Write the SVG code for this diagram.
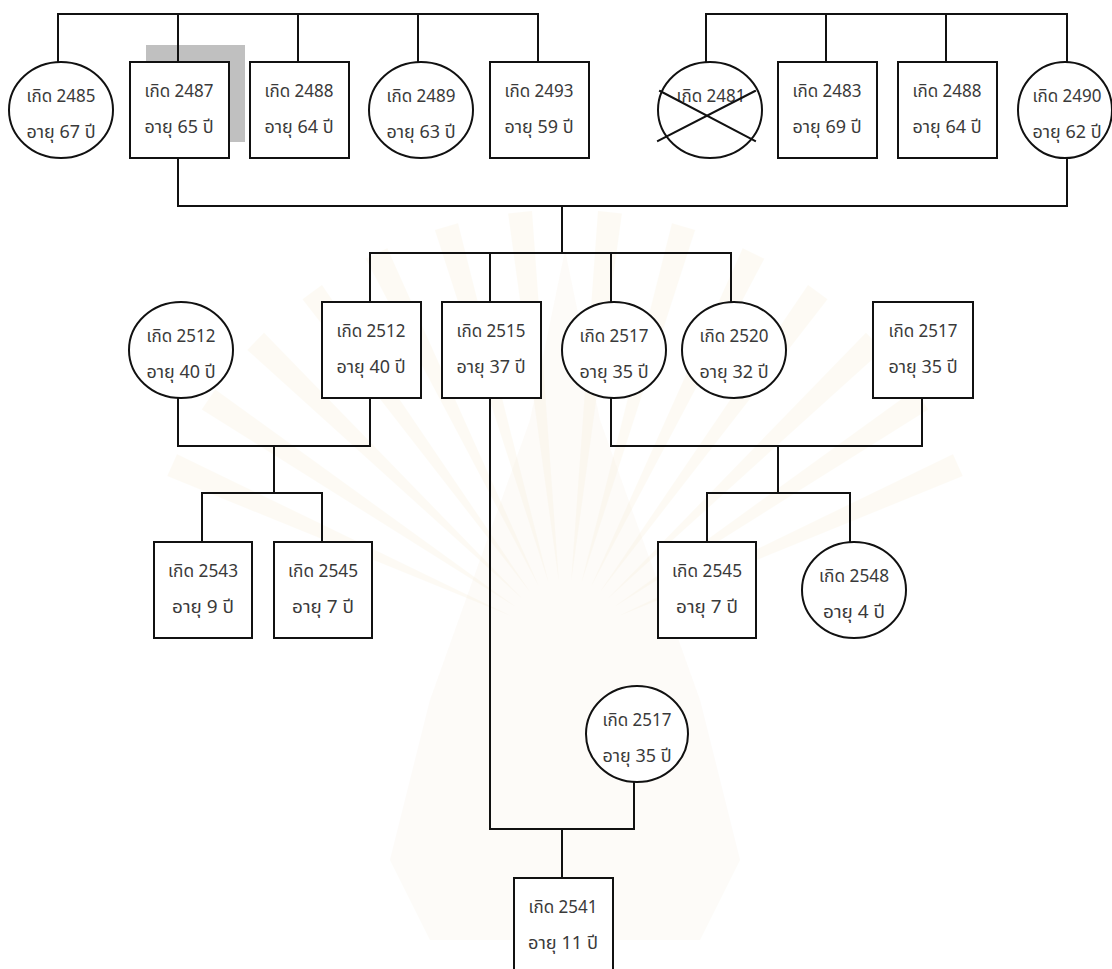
<svg xmlns="http://www.w3.org/2000/svg" width="1112" height="969" viewBox="0 0 1112 969">
<style>
.n{fill:#fff;stroke:#111;stroke-width:2}
.c{fill:none;stroke:#111;stroke-width:2;stroke-linecap:square}
text{font-family:"Noto Sans Thai","Noto Sans","DejaVu Sans",sans-serif;font-size:18.5px;fill:#3a3a3a;text-anchor:middle}
.wm{fill:#f7edd2;opacity:0.22}
</style>
<defs>
<polygon id="ray" points="0,-60 -12,-430 12,-430"/>
</defs>
<rect width="1112" height="969" fill="#fff"/>
<g id="watermark">
<g transform="translate(565 640)" class="wm">
<use href="#ray" transform="rotate(-66)"/><use href="#ray" transform="rotate(-56)"/><use href="#ray" transform="rotate(-46)"/><use href="#ray" transform="rotate(-36)"/><use href="#ray" transform="rotate(-26)"/><use href="#ray" transform="rotate(-16)"/><use href="#ray" transform="rotate(-6)"/><use href="#ray" transform="rotate(6)"/><use href="#ray" transform="rotate(16)"/><use href="#ray" transform="rotate(26)"/><use href="#ray" transform="rotate(36)"/><use href="#ray" transform="rotate(46)"/><use href="#ray" transform="rotate(56)"/><use href="#ray" transform="rotate(66)"/>
</g>
<path d="M565 250L600 420L650 560L700 700L740 860L700 940L430 940L390 860L430 700L480 560L530 420Z" fill="#f4ece0" opacity="0.22"/>
</g>
<rect x="146" y="45" width="99" height="97" fill="#c0c0c0"/>
<g id="connectors" class="c">
<path d="M58 62V14H538V62M178 14V62M298 14V62M418 14V62"/>
<path d="M706 62V14H1067V62M826 14V62M946 14V62"/>
<path d="M178 158V206H1067V158M562 206V253"/>
<path d="M370 302V253H731V302M490 253V302M611 253V302"/>
<path d="M178 398V446H370V398M274 446V493M202 542V493H322V542"/>
<path d="M611 398V446H922V398M778 446V493M707 542V493H850V542"/>
<path d="M490 398V829H634V782M562 829V878"/>
</g>
<g id="n2485"><ellipse class="n" cx="61" cy="110" rx="52" ry="48"/><text x="61" y="102" textLength="69" lengthAdjust="spacingAndGlyphs">เกิด 2485</text><text x="61" y="138" textLength="69" lengthAdjust="spacingAndGlyphs">อายุ 67 ปี</text></g>
<g id="n2487"><rect class="n" x="130" y="62" width="99" height="96"/><text x="179" y="97" textLength="69" lengthAdjust="spacingAndGlyphs">เกิด 2487</text><text x="179" y="133" textLength="69" lengthAdjust="spacingAndGlyphs">อายุ 65 ปี</text></g>
<g id="n2488a"><rect class="n" x="250" y="62" width="99" height="96"/><text x="299" y="97" textLength="69" lengthAdjust="spacingAndGlyphs">เกิด 2488</text><text x="299" y="133" textLength="69" lengthAdjust="spacingAndGlyphs">อายุ 64 ปี</text></g>
<g id="n2489"><ellipse class="n" cx="421" cy="110" rx="52" ry="48"/><text x="421" y="102" textLength="69" lengthAdjust="spacingAndGlyphs">เกิด 2489</text><text x="421" y="138" textLength="69" lengthAdjust="spacingAndGlyphs">อายุ 63 ปี</text></g>
<g id="n2493"><rect class="n" x="490" y="62" width="99" height="96"/><text x="539" y="97" textLength="69" lengthAdjust="spacingAndGlyphs">เกิด 2493</text><text x="539" y="133" textLength="69" lengthAdjust="spacingAndGlyphs">อายุ 59 ปี</text></g>
<g id="n2481"><ellipse class="n" cx="710" cy="110" rx="52" ry="48"/><text x="711" y="102" textLength="69" lengthAdjust="spacingAndGlyphs">เกิด 2481</text><path class="c" d="M658 141L755 91M660 91L755 141"/></g>
<g id="n2483"><rect class="n" x="778" y="62" width="99" height="96"/><text x="827" y="97" textLength="69" lengthAdjust="spacingAndGlyphs">เกิด 2483</text><text x="827" y="133" textLength="69" lengthAdjust="spacingAndGlyphs">อายุ 69 ปี</text></g>
<g id="n2488b"><rect class="n" x="898" y="62" width="99" height="96"/><text x="947" y="97" textLength="69" lengthAdjust="spacingAndGlyphs">เกิด 2488</text><text x="947" y="133" textLength="69" lengthAdjust="spacingAndGlyphs">อายุ 64 ปี</text></g>
<g id="n2490"><ellipse class="n" cx="1065" cy="110" rx="47" ry="48"/><text x="1067" y="102" textLength="69" lengthAdjust="spacingAndGlyphs">เกิด 2490</text><text x="1067" y="138" textLength="69" lengthAdjust="spacingAndGlyphs">อายุ 62 ปี</text></g>
<g id="n2512a"><ellipse class="n" cx="181" cy="350" rx="52" ry="48"/><text x="181" y="342" textLength="69" lengthAdjust="spacingAndGlyphs">เกิด 2512</text><text x="181" y="378" textLength="69" lengthAdjust="spacingAndGlyphs">อายุ 40 ปี</text></g>
<g id="n2512b"><rect class="n" x="322" y="302" width="99" height="96"/><text x="371" y="337" textLength="69" lengthAdjust="spacingAndGlyphs">เกิด 2512</text><text x="371" y="373" textLength="69" lengthAdjust="spacingAndGlyphs">อายุ 40 ปี</text></g>
<g id="n2515"><rect class="n" x="442" y="302" width="99" height="96"/><text x="491" y="337" textLength="69" lengthAdjust="spacingAndGlyphs">เกิด 2515</text><text x="491" y="373" textLength="69" lengthAdjust="spacingAndGlyphs">อายุ 37 ปี</text></g>
<g id="n2517a"><ellipse class="n" cx="614" cy="350" rx="52" ry="48"/><text x="614" y="342" textLength="69" lengthAdjust="spacingAndGlyphs">เกิด 2517</text><text x="614" y="378" textLength="69" lengthAdjust="spacingAndGlyphs">อายุ 35 ปี</text></g>
<g id="n2520"><ellipse class="n" cx="734" cy="350" rx="52" ry="48"/><text x="734" y="342" textLength="69" lengthAdjust="spacingAndGlyphs">เกิด 2520</text><text x="734" y="378" textLength="69" lengthAdjust="spacingAndGlyphs">อายุ 32 ปี</text></g>
<g id="n2517b"><rect class="n" x="873" y="302" width="100" height="96"/><text x="923" y="337" textLength="69" lengthAdjust="spacingAndGlyphs">เกิด 2517</text><text x="923" y="373" textLength="69" lengthAdjust="spacingAndGlyphs">อายุ 35 ปี</text></g>
<g id="n2543"><rect class="n" x="154" y="542" width="98" height="96"/><text x="203" y="577" textLength="70" lengthAdjust="spacingAndGlyphs">เกิด 2543</text><text x="203" y="613" textLength="62" lengthAdjust="spacingAndGlyphs">อายุ 9 ปี</text></g>
<g id="n2545a"><rect class="n" x="274" y="542" width="98" height="96"/><text x="323" y="577" textLength="70" lengthAdjust="spacingAndGlyphs">เกิด 2545</text><text x="323" y="613" textLength="62" lengthAdjust="spacingAndGlyphs">อายุ 7 ปี</text></g>
<g id="n2545b"><rect class="n" x="658" y="542" width="98" height="96"/><text x="707" y="577" textLength="70" lengthAdjust="spacingAndGlyphs">เกิด 2545</text><text x="707" y="613" textLength="62" lengthAdjust="spacingAndGlyphs">อายุ 7 ปี</text></g>
<g id="n2548"><ellipse class="n" cx="854" cy="590" rx="52" ry="48"/><text x="854" y="582" textLength="70" lengthAdjust="spacingAndGlyphs">เกิด 2548</text><text x="854" y="618" textLength="62" lengthAdjust="spacingAndGlyphs">อายุ 4 ปี</text></g>
<g id="n2517c"><ellipse class="n" cx="637" cy="734" rx="51" ry="48"/><text x="637" y="726" textLength="69" lengthAdjust="spacingAndGlyphs">เกิด 2517</text><text x="637" y="762" textLength="69" lengthAdjust="spacingAndGlyphs">อายุ 35 ปี</text></g>
<g id="n2541"><rect class="n" x="514" y="878" width="99" height="120"/><text x="563" y="913" textLength="69" lengthAdjust="spacingAndGlyphs">เกิด 2541</text><text x="563" y="949" textLength="70" lengthAdjust="spacingAndGlyphs">อายุ 11 ปี</text></g>
</svg>
